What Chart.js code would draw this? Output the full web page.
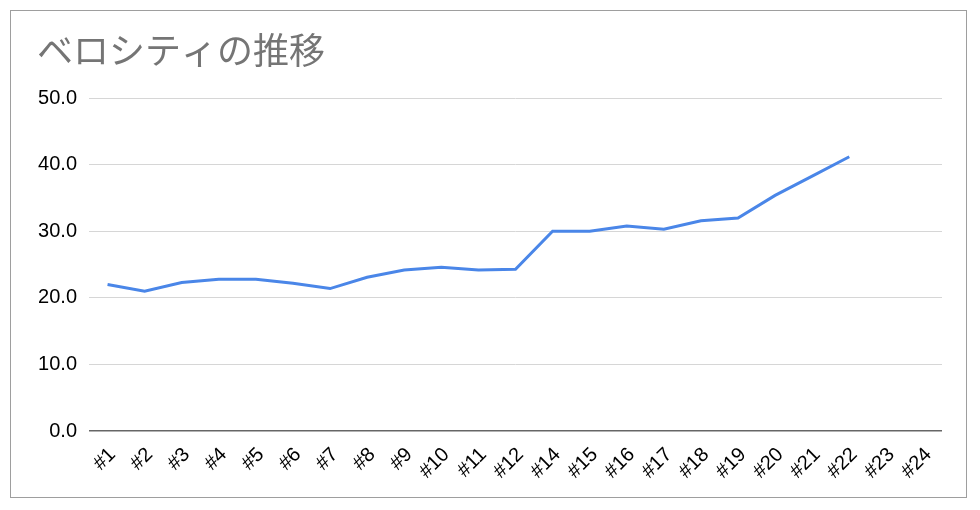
<!DOCTYPE html>
<html>
<head>
<meta charset="utf-8">
<script src="https://cdn.jsdelivr.net/npm/chart.js@4"></script>
<style>
  html, body { margin: 0; padding: 0; background: #fff; }
  #wrap { position: relative; width: 980px; height: 510px; }
  #frame {
    position: absolute; left: 10px; top: 10px;
    width: 957px; height: 488px;
    border: 1px solid #9e9e9e; box-sizing: border-box;
    pointer-events: none;
  }
</style>
</head>
<body>
<div id="wrap">
  <canvas id="chart" width="980" height="510"></canvas>
  <div id="frame"></div>
</div>
<script>
const titleText = "ベロシティの推移";
const sprints = ["#1", "#2", "#3", "#4", "#5", "#6", "#7", "#8", "#9", "#10", "#11", "#12",
                 "#14", "#15", "#16", "#17", "#18", "#19", "#20", "#21", "#22", "#23", "#24"];
const velocity = [22.0, 21.0, 22.3, 22.8, 22.8, 22.2, 21.4, 23.1, 24.2, 24.6, 24.2, 24.3,
                  30.0, 30.0, 30.8, 30.3, 31.6, 32.0, 35.4, 38.3, 41.2, null, null];
const yTicks = [0, 10, 20, 30, 40, 50];

const ctx = document.getElementById("chart").getContext("2d");

new Chart(ctx, {
  type: "line",
  data: {
    labels: sprints,
    datasets: [{
      data: velocity,
      borderColor: "#4a86e8",
      borderWidth: 3,
      pointRadius: 0,
      tension: 0,
      spanGaps: false
    }]
  },
  options: {
    responsive: false,
    animation: false,
    layout: { padding: { left: 37, right: 38, top: 0, bottom: 0 } },
    plugins: {
      legend: { display: false },
      tooltip: { enabled: false },
      title: {
        display: true,
        text: titleText,
        align: "start",
        color: "#757575",
        font: { family: "'Noto Sans CJK JP', sans-serif", size: 36, weight: "normal" },
        padding: { top: 29, bottom: 26 }
      }
    },
    scales: {
      x: {
        offset: true,
        grid: { display: false },
        border: { display: false },
        ticks: {
          color: "#000",
          font: { family: "'Liberation Sans', Arial, sans-serif", size: 20 },
          minRotation: 45,
          maxRotation: 45,
          autoSkip: false,
          padding: 4,
          labelOffset: 5
        },
        afterFit: s => { s.height = 79; }
      },
      y: {
        min: yTicks[0],
        max: yTicks[yTicks.length - 1],
        border: { display: false },
        grid: {
          drawTicks: false,
          color: c => c.tick.value === 0 ? "#666" : "#d6d6d6",
          lineWidth: c => c.tick.value === 0 ? 1.5 : 1
        },
        ticks: {
          stepSize: 10,
          color: "#000",
          padding: 12,
          font: { family: "'Liberation Sans', Arial, sans-serif", size: 20 },
          callback: v => v.toFixed(1)
        },
        afterFit: s => { s.width = 52; }
      }
    }
  }
});
</script>
</body>
</html>
